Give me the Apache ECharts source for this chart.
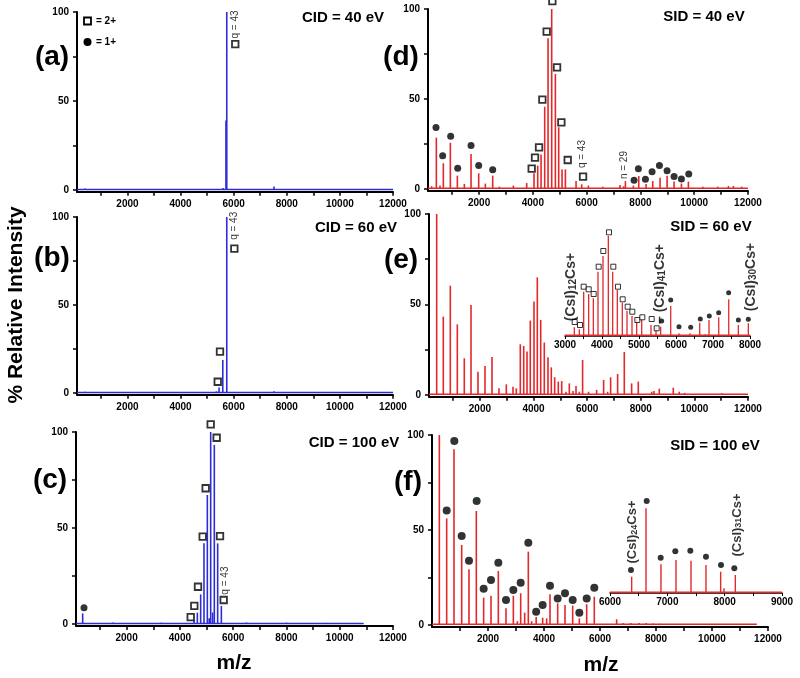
<!DOCTYPE html>
<html>
<head>
<meta charset="utf-8">
<script src="https://cdn.jsdelivr.net/npm/echarts@6/dist/echarts.min.js"></script>
<style>
 html,body{margin:0;padding:0;background:#fff;}
 #chart{width:800px;height:678px;}
</style>
</head>
<body>
<div id="chart"></div>
<script>
// axis ticks
var xTicks = [1000,2000,3000,4000,5000,6000,7000,8000,9000,10000,11000,12000];
var xTickLabels = [2000,4000,6000,8000,10000,12000];
var yTicks = [0,25,50,75,100];
var yTickLabels = [0,50,100];

// (a) CID 40 eV
var peaksA = [[400,0.8],[5600,1.2],[5710,39],[5740,100],[7520,2]];
var squaresA = [[6060,82]];
var notesA = [[6060,93,'q = 43']];
var baseA = [[100,0.3],[12000,0.3]];

// (b) CID 60 eV
var peaksB = [[400,0.8],[5350,1],[5450,3.2],[5590,18.8],[5740,100],[7520,1]];
var squaresB = [[5400,6.4],[5485,23.5],[6025,82]];
var notesB = [[6025,95,'q = 43']];
var baseB = [[100,0.3],[12000,0.3]];

// (c) CID 100 eV
var peaksC = [[350,5.5],[1500,0.8],[3300,0.7],[4530,2],[4655,5.9],[4780,15.4],[4905,42],[5030,67.2],[5100,3],[5156,100],[5230,6],[5292,93.3],[5418,42],[5556,9.4],[6500,0.8],[8000,0.7],[9500,0.6]];
var squaresC = [[4406,3.6],[4541,9.4],[4680,19.4],[4856,45.5],[4968,70.7],[5156,104],[5380,97],[5506,45.8],[5644,12.5]];
var circlesC = [[400,8.5]];
var notesC = [[5706,22.6,'q = 43']];
var baseC = [[100,0.3],[10900,0.3]];

// (d) SID 40 eV
var peaksD = [[236,1.5],[410,28.5],[546,2],[670,14.3],[931,25.7],[1191,7.4],[1452,2.8],[1700,19.4],[1985,8.7],[2233,3],[2506,7.4],[2754,1.3],[3274,1.9],[3770,3.3],[4043,8.7],[4180,13],[4304,19.1],[4440,45.7],[4564,83.7],[4700,100],[4837,63.9],[4961,34.3],[5085,10.9],[5209,10.9],[5606,4.4],[5816,2.6],[6064,1.9],[6598,1.3],[7242,2.2],[7377,1.5],[7441,4.4],[7738,1.9],[7937,7.2],[8210,2.8],[8458,4.4],[8730,6.3],[8991,7.4],[9251,4.1],[9524,3],[9784,4.1],[10318,1.3],[10876,1.3],[11272,1.7],[11458,1.7],[11768,1.3]];
var squaresD = [[3956,11.3],[4080,17.4],[4229,23.1],[4353,49.6],[4514,87.4],[4725,104.4],[4899,67.6],[5060,37],[5296,16.1],[5866,6.9]];
var circlesD = [[398,34.1],[646,18.5],[943,29.3],[1204,11.5],[1700,24.1],[1985,13],[2506,10.7],[7763,4.8],[7924,11.3],[8185,5.4],[8433,9.6],[8706,13.1],[8991,10.2],[9251,6.9],[9524,5.6],[9797,8.3]];
var notesD = [[5854,19.4,'q = 43'],[7416,13.3,'n = 29']];
var baseD = [[100,0.4],[12000,0.4]];

// (e) SID 60 eV
var peaksE = [[387,100],[633,43.3],[895,60.4],[1156,39],[1417,20.3],[1667,49.7],[1928,12.9],[2189,16],[2450,21],[2711,3.7],[2984,5.9],[3234,4.6],[3357,3.7],[3506,28],[3633,27.1],[3756,24],[3879,41.1],[4017,51.6],[4140,65],[4267,41.5],[4401,29],[4539,20.8],[4662,15.3],[4789,9.8],[4923,7.4],[5050,7.7],[5211,1.8],[5334,6.4],[5472,2.2],[5584,5],[5707,1.8],[5830,19.3],[6054,1.8],[6353,2.8],[6614,8.3],[6763,1.8],[6875,9.8],[7136,11.6],[7385,23.8],[7659,6.4],[7907,7.4],[8407,1.8],[8493,2.2],[8691,3.5],[9213,4],[9437,1.8],[9637,1.2],[11018,0.9]];
var baseE = [[100,0.4],[12000,0.4]];
// (e) inset, 3000-8000
var insetPeaksE = [[3252,8.7],[3387,6.7],[3505,44.3],[3640,42],[3766,37.7],[3892,64.3],[4027,80],[4171,100],[4289,64.3],[4414,46],[4549,33.3],[4676,25.3],[4811,20],[4937,16.7],[5073,16.7],[5324,11],[5460,8.7],[5586,9.3],[5857,30],[6081,2.7],[6378,2.7],[6641,13.3],[6793,1.7],[6892,16],[7155,18.7],[7425,36.7],[7685,11],[7955,12.7]];
var insetSquaresE = [[3261,14],[3405,11],[3505,49.3],[3640,46.7],[3775,42],[3910,69.3],[4036,85],[4189,103.7],[4306,69.3],[4432,49.3],[4559,36.7],[4694,29.3],[4820,24.3],[4955,16],[5090,18.7],[5343,17],[5478,7.7]];
var insetCirclesE = [[5613,15],[5857,36],[6081,9.3],[6397,8.7],[6657,17],[6900,20],[7153,23.3],[7423,43.3],[7685,16],[7955,16.7]];
var insetNotesE = [[3162,49,'(CsI){s|12}Cs+'],[5568,52,'– (CsI){s|41}Cs+'],[8027,59,'(CsI){s|30}Cs+']];
var insetBaseE = [[3000,0.8],[8000,0.8]];

// (f) SID 100 eV
var peaksF = [[262,100],[524,56.1],[786,92.5],[1060,42.1],[1321,29.3],[1583,60],[1845,14.4],[2107,15.4],[2369,28.4],[2643,8.8],[2905,15.4],[3048,2],[3167,16.7],[3310,6.5],[3440,38.6],[3560,2],[3720,4.2],[3952,3.8],[4095,3.5],[4214,16.2],[4488,11.4],[4750,10.5],[5024,10.2],[5262,3.5],[5524,10.9],[5796,14.9],[6595,3],[6832,1],[7100,1],[7400,1],[7650,1],[7900,0.8],[8150,0.7]];
var circlesF = [[524,60.2],[797,96.8],[1060,46.8],[1321,33.8],[1595,65.3],[1845,19.1],[2107,23.7],[2369,32.8],[2643,13.2],[2905,18.4],[3167,22.3],[3440,43.3],[3720,7],[3952,10.5],[4214,20.7],[4488,14],[4750,16.7],[5024,13.2],[5262,6.5],[5524,14],[5796,19.6]];
var baseF = [[0,0.4],[11600,0.4]];
// (f) inset, 6000-9000
var insetPeaksF = [[6378,16.3],[6628,84.7],[6889,28.7],[7151,33],[7413,32.3],[7674,28],[7930,21.3],[7988,4.7],[8186,18]];
var insetCirclesF = [[6366,23],[6640,92],[6884,35.3],[7139,41.7],[7401,42.3],[7674,36.3],[7936,28],[8168,24.7]];
var insetNotesF = [[6384,61,'(CsI){s|24}Cs+'],[8215,68,'(CsI){s|31}Cs+']];
var insetBaseF = [[6000,0.8],[9000,0.8]];

var SANS = '"Liberation Sans", Arial, sans-serif';
var BLUE = '#2d2dd8';
var RED = '#e2282a';

function plain(v) { return String(v); }

function mainX(i, min) {
  return {
    type: 'value', gridIndex: i, min: min, max: 12000,
    axisLine: {show: true, onZero: false, lineStyle: {color: '#000', width: 2}},
    axisTick: {show: true, customValues: xTicks, length: 4, lineStyle: {color: '#000', width: 1.5}},
    axisLabel: {customValues: xTickLabels, formatter: plain, color: '#000', fontSize: 10, fontWeight: 'bold', fontFamily: SANS, margin: 7},
    splitLine: {show: false}
  };
}
function mainY(i) {
  return {
    type: 'value', gridIndex: i, min: -1, max: 100,
    axisLine: {show: true, onZero: false, lineStyle: {color: '#000', width: 2}},
    axisTick: {show: true, customValues: yTicks, length: 4, lineStyle: {color: '#000', width: 1.5}},
    axisLabel: {customValues: yTickLabels, formatter: plain, color: '#000', fontSize: 10, fontWeight: 'bold', fontFamily: SANS, margin: 8},
    splitLine: {show: false}
  };
}
function insetX(i, min, max) {
  return {
    type: 'value', gridIndex: i, min: min, max: max, interval: 500,
    axisLine: {show: true, onZero: false, lineStyle: {color: '#000', width: 1.5}},
    axisTick: {show: true, length: 3, lineStyle: {color: '#000', width: 1}},
    axisLabel: {color: '#000', fontSize: 10, fontWeight: 'bold', fontFamily: SANS, margin: 4,
      formatter: function (v) { return v % 1000 === 0 ? String(v) : ''; }},
    splitLine: {show: false}
  };
}
function insetY(i, max) {
  return {type: 'value', gridIndex: i, min: 0, max: max, show: false};
}

function sticks(i, data, color, w) {
  return {type: 'bar', xAxisIndex: i, yAxisIndex: i, data: data, barWidth: w || 1.6,
    itemStyle: {color: color}, silent: true, z: 2};
}
function base(i, data, color) {
  return {type: 'line', xAxisIndex: i, yAxisIndex: i, data: data, symbol: 'none',
    lineStyle: {color: color, width: 1.5}, silent: true, z: 2};
}
function squares(i, data, size, bw) {
  return {type: 'scatter', xAxisIndex: i, yAxisIndex: i, data: data, symbol: 'rect',
    symbolSize: size || 6.5, clip: false,
    itemStyle: {color: '#fff', borderColor: '#000', borderWidth: bw || 1.8}, z: 4};
}
function dots(i, data, size) {
  return {type: 'scatter', xAxisIndex: i, yAxisIndex: i, data: data, symbol: 'circle',
    symbolSize: size || 8, clip: false, itemStyle: {color: '#000'}, z: 4};
}
function notes(i, data, size, weight) {
  return {type: 'scatter', xAxisIndex: i, yAxisIndex: i, data: data, symbolSize: 0, clip: false,
    label: {show: true, position: 'inside', rotate: 90, color: '#000', fontFamily: SANS,
      fontSize: size || 10, fontWeight: weight || 'normal',
      formatter: function (p) { return p.data[2]; },
      rich: {s: {fontSize: (size || 10) - 4, fontWeight: weight || 'normal', fontFamily: SANS,
        color: '#000', verticalAlign: 'bottom', padding: [4, 0, 0, 0]}}},
    z: 5};
}

function txt(x, y, s, size, rot) {
  return {type: 'text', x: x, y: y, rotation: rot || 0,
    style: {text: s, fontSize: size, fontWeight: 'bold', fontFamily: SANS, fill: '#000',
      align: 'center', verticalAlign: 'middle'}};
}

var chart = echarts.init(document.getElementById('chart'), null, {renderer: 'canvas'});
chart.setOption({
  animation: false,
  backgroundColor: '#fff',
  textStyle: {fontFamily: SANS},
  grid: [
    {left: 77, top: 12, width: 316, height: 179.8},
    {left: 77, top: 217, width: 316, height: 177.8},
    {left: 76, top: 432, width: 317, height: 193.9},
    {left: 428, top: 9, width: 320, height: 181.8},
    {left: 429, top: 214, width: 319, height: 182.8},
    {left: 432, top: 435, width: 336, height: 191.9},
    {left: 565, top: 226, width: 185, height: 110},
    {left: 610, top: 493, width: 172, height: 100}
  ],
  xAxis: [mainX(0, 100), mainX(1, 100), mainX(2, 100), mainX(3, 100), mainX(4, 100), mainX(5, 0),
    insetX(6, 3000, 8000), insetX(7, 6000, 9000)],
  yAxis: [mainY(0), mainY(1), mainY(2), mainY(3), mainY(4), mainY(5), insetY(6, 110), insetY(7, 100)],
  series: [
    base(0, baseA, BLUE), sticks(0, peaksA, BLUE), squares(0, squaresA), notes(0, notesA),
    base(1, baseB, BLUE), sticks(1, peaksB, BLUE), squares(1, squaresB), notes(1, notesB),
    base(2, baseC, BLUE), sticks(2, peaksC, BLUE), squares(2, squaresC), dots(2, circlesC, 7), notes(2, notesC),
    base(3, baseD, RED), sticks(3, peaksD, RED), squares(3, squaresD), dots(3, circlesD, 7), notes(3, notesD),
    base(4, baseE, RED), sticks(4, peaksE, RED),
    base(5, baseF, RED), sticks(5, peaksF, RED), dots(5, circlesF),
    base(6, insetBaseE, RED), sticks(6, insetPeaksE, RED, 1.3), squares(6, insetSquaresE, 5, 1), dots(6, insetCirclesE, 5),
    notes(6, insetNotesE, 14, 'bold'),
    base(7, insetBaseF, RED), sticks(7, insetPeaksF, RED, 1.4), dots(7, insetCirclesF, 6),
    notes(7, insetNotesF, 13, 'bold')
  ],
  graphic: [
    txt(52, 57, '(a)', 28), txt(52, 258, '(b)', 28), txt(50, 480, '(c)', 28),
    txt(401, 57, '(d)', 28), txt(401, 260, '(e)', 28), txt(408, 482, '(f)', 28),
    txt(343, 18, 'CID = 40 eV', 15), txt(356, 228, 'CID = 60 eV', 15), txt(354, 443, 'CID = 100 eV', 15),
    txt(704, 17, 'SID = 40 eV', 15), txt(711, 227, 'SID = 60 eV', 15), txt(715, 446, 'SID = 100 eV', 15),
    txt(16, 305, '% Relative Intensity', 21, Math.PI / 2),
    txt(234, 663, 'm/z', 21), txt(601, 665, 'm/z', 21),
    {type: 'rect', shape: {x: 84, y: 17.5, width: 7, height: 7},
      style: {fill: '#fff', stroke: '#000', lineWidth: 1.8}},
    {type: 'circle', shape: {cx: 87.5, cy: 42, r: 4}, style: {fill: '#000'}},
    {type: 'text', x: 96, y: 21, style: {text: '= 2+', fontSize: 10, fontWeight: 'bold', fontFamily: SANS,
      fill: '#000', align: 'left', verticalAlign: 'middle'}},
    {type: 'text', x: 96, y: 42, style: {text: '= 1+', fontSize: 10, fontWeight: 'bold', fontFamily: SANS,
      fill: '#000', align: 'left', verticalAlign: 'middle'}}
  ]
});
</script>
</body>
</html>
